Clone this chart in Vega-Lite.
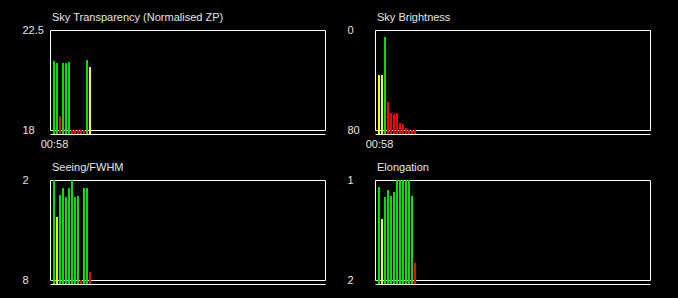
{
  "$schema": "https://vega.github.io/schema/vega-lite/v6.json",
  "background": "black",
  "padding": {"left": 21, "top": 11, "right": 28, "bottom": 22},
  "config": {
    "view": {"stroke": "white", "strokeWidth": 1},
    "font": "Liberation Sans",
    "scale": {"continuousPadding": 0},
    "axis": {"labelColor": "#e6e6e6", "labelFont": "Liberation Sans", "labelFontSize": 11, "grid": false, "ticks": false, "title": null, "labelFlush": false, "labelOverlap": false, "labelBound": false},
    "title": {"color": "#e6e6e6", "font": "Liberation Sans", "fontSize": 11, "fontWeight": "normal", "anchor": "start", "frame": "group", "baseline": "alphabetic", "offset": 1, "dx": 2}
  },
  "data": {"values": [
    {"time": "2024-01-01T00:58:00", "metric": "zp", "value": 21.1, "quality": "good"},
    {"time": "2024-01-01T01:01:00", "metric": "zp", "value": 21.02, "quality": "good"},
    {"time": "2024-01-01T01:04:00", "metric": "zp", "value": 18.63, "quality": "poor"},
    {"time": "2024-01-01T01:07:00", "metric": "zp", "value": 21.02, "quality": "good"},
    {"time": "2024-01-01T01:10:00", "metric": "zp", "value": 21.02, "quality": "good"},
    {"time": "2024-01-01T01:13:00", "metric": "zp", "value": 21.06, "quality": "good"},
    {"time": "2024-01-01T01:16:00", "metric": "zp", "value": 18.0, "quality": "poor"},
    {"time": "2024-01-01T01:19:00", "metric": "zp", "value": 18.0, "quality": "poor"},
    {"time": "2024-01-01T01:22:00", "metric": "zp", "value": 18.0, "quality": "poor"},
    {"time": "2024-01-01T01:25:00", "metric": "zp", "value": 18.0, "quality": "poor"},
    {"time": "2024-01-01T01:28:00", "metric": "zp", "value": 18.0, "quality": "poor"},
    {"time": "2024-01-01T01:31:00", "metric": "zp", "value": 21.15, "quality": "good"},
    {"time": "2024-01-01T01:34:00", "metric": "zp", "value": 20.84, "quality": "fair"},
    {"time": "2024-01-01T00:58:00", "metric": "sky", "value": 36, "quality": "fair"},
    {"time": "2024-01-01T01:01:00", "metric": "sky", "value": 36, "quality": "fair"},
    {"time": "2024-01-01T01:04:00", "metric": "sky", "value": 5.6, "quality": "good"},
    {"time": "2024-01-01T01:07:00", "metric": "sky", "value": 57.6, "quality": "poor"},
    {"time": "2024-01-01T01:10:00", "metric": "sky", "value": 66.4, "quality": "poor"},
    {"time": "2024-01-01T01:13:00", "metric": "sky", "value": 67.2, "quality": "poor"},
    {"time": "2024-01-01T01:16:00", "metric": "sky", "value": 66.4, "quality": "poor"},
    {"time": "2024-01-01T01:19:00", "metric": "sky", "value": 74.4, "quality": "poor"},
    {"time": "2024-01-01T01:22:00", "metric": "sky", "value": 75.2, "quality": "poor"},
    {"time": "2024-01-01T01:25:00", "metric": "sky", "value": 78.4, "quality": "poor"},
    {"time": "2024-01-01T01:28:00", "metric": "sky", "value": 80, "quality": "poor"},
    {"time": "2024-01-01T01:31:00", "metric": "sky", "value": 80, "quality": "poor"},
    {"time": "2024-01-01T01:34:00", "metric": "sky", "value": 80, "quality": "poor"},
    {"time": "2024-01-01T00:58:00", "metric": "seeing", "value": 2.0, "quality": "good"},
    {"time": "2024-01-01T01:01:00", "metric": "seeing", "value": 4.22, "quality": "fair"},
    {"time": "2024-01-01T01:04:00", "metric": "seeing", "value": 2.9, "quality": "good"},
    {"time": "2024-01-01T01:07:00", "metric": "seeing", "value": 2.48, "quality": "good"},
    {"time": "2024-01-01T01:10:00", "metric": "seeing", "value": 3.02, "quality": "good"},
    {"time": "2024-01-01T01:13:00", "metric": "seeing", "value": 2.48, "quality": "good"},
    {"time": "2024-01-01T01:16:00", "metric": "seeing", "value": 2.0, "quality": "good"},
    {"time": "2024-01-01T01:19:00", "metric": "seeing", "value": 3.02, "quality": "good"},
    {"time": "2024-01-01T01:22:00", "metric": "seeing", "value": 2.96, "quality": "good"},
    {"time": "2024-01-01T01:25:00", "metric": "seeing", "value": 8.0, "quality": "poor"},
    {"time": "2024-01-01T01:28:00", "metric": "seeing", "value": 2.48, "quality": "good"},
    {"time": "2024-01-01T01:31:00", "metric": "seeing", "value": 2.48, "quality": "good"},
    {"time": "2024-01-01T01:34:00", "metric": "seeing", "value": 7.52, "quality": "poor"},
    {"time": "2024-01-01T00:58:00", "metric": "elong", "value": 1.07, "quality": "good"},
    {"time": "2024-01-01T01:01:00", "metric": "elong", "value": 1.39, "quality": "fair"},
    {"time": "2024-01-01T01:04:00", "metric": "elong", "value": 1.17, "quality": "good"},
    {"time": "2024-01-01T01:07:00", "metric": "elong", "value": 1.10, "quality": "good"},
    {"time": "2024-01-01T01:10:00", "metric": "elong", "value": 1.16, "quality": "good"},
    {"time": "2024-01-01T01:13:00", "metric": "elong", "value": 1.12, "quality": "good"},
    {"time": "2024-01-01T01:16:00", "metric": "elong", "value": 1.0, "quality": "good"},
    {"time": "2024-01-01T01:19:00", "metric": "elong", "value": 1.0, "quality": "good"},
    {"time": "2024-01-01T01:22:00", "metric": "elong", "value": 1.0, "quality": "good"},
    {"time": "2024-01-01T01:25:00", "metric": "elong", "value": 1.0, "quality": "good"},
    {"time": "2024-01-01T01:28:00", "metric": "elong", "value": 1.0, "quality": "good"},
    {"time": "2024-01-01T01:31:00", "metric": "elong", "value": 1.16, "quality": "good"},
    {"time": "2024-01-01T01:34:00", "metric": "elong", "value": 1.83, "quality": "poor"}
  ]},
  "columns": 2,
  "spacing": {"row": 50, "column": 50},
  "bounds": "flush",
  "concat": [
    {
      "width": 275, "height": 100,
      "title": {"text": "Sky Transparency (Normalised ZP)"},
      "transform": [{"filter": "datum.metric === 'zp'"}],
      "mark": {"type": "bar", "width": 2},
      "encoding": {
        "x": {"field": "time", "type": "temporal",
          "scale": {"domain": [{"year": 2024, "month": 1, "date": 1, "hours": 0, "minutes": 54}, {"year": 2024, "month": 1, "date": 1, "hours": 5, "minutes": 29}], "nice": false, "padding": 0},
          "axis": {"values": [{"year": 2024, "month": 1, "date": 1, "hours": 0, "minutes": 58}], "format": "%H:%M", "domain": true, "domainColor": "white", "offset": 4, "labelPadding": 4}},
        "y": {"field": "value", "type": "quantitative", "scale": {"domain": [18, 22.5], "zero": false, "nice": false, "padding": 0},
          "axis": {"values": [18, 22.5], "labelExpr": "'' + datum.value", "domain": false, "labelAlign": "left", "labelBaseline": "middle", "labelPadding": 28}},
        "y2": {"datum": 17.82},
        "color": {"field": "quality", "type": "nominal", "scale": {"domain": ["good", "fair", "poor"], "range": ["#00e000", "#ffff00", "#ff0000"]}, "legend": null}
      }
    },
    {
      "width": 275, "height": 100,
      "title": {"text": "Sky Brightness"},
      "transform": [{"filter": "datum.metric === 'sky'"}],
      "mark": {"type": "bar", "width": 2},
      "encoding": {
        "x": {"field": "time", "type": "temporal",
          "scale": {"domain": [{"year": 2024, "month": 1, "date": 1, "hours": 0, "minutes": 54}, {"year": 2024, "month": 1, "date": 1, "hours": 5, "minutes": 29}], "nice": false, "padding": 0},
          "axis": {"values": [{"year": 2024, "month": 1, "date": 1, "hours": 0, "minutes": 58}], "format": "%H:%M", "domain": true, "domainColor": "white", "offset": 4, "labelPadding": 4}},
        "y": {"field": "value", "type": "quantitative", "scale": {"domain": [0, 80], "reverse": true, "zero": false, "nice": false, "padding": 0},
          "axis": {"values": [0, 80], "labelExpr": "'' + datum.value", "domain": false, "labelAlign": "left", "labelBaseline": "middle", "labelPadding": 28}},
        "y2": {"datum": 83.2},
        "color": {"field": "quality", "type": "nominal", "scale": {"domain": ["good", "fair", "poor"], "range": ["#00e000", "#ffff00", "#ff0000"]}, "legend": null}
      }
    },
    {
      "width": 275, "height": 100,
      "title": {"text": "Seeing/FWHM"},
      "transform": [{"filter": "datum.metric === 'seeing'"}],
      "mark": {"type": "bar", "width": 2},
      "encoding": {
        "x": {"field": "time", "type": "temporal",
          "scale": {"domain": [{"year": 2024, "month": 1, "date": 1, "hours": 0, "minutes": 54}, {"year": 2024, "month": 1, "date": 1, "hours": 5, "minutes": 29}], "nice": false, "padding": 0},
          "axis": {"values": [], "labels": false, "domain": true, "domainColor": "white", "offset": 4}},
        "y": {"field": "value", "type": "quantitative", "scale": {"domain": [2, 8], "reverse": true, "zero": false, "nice": false, "padding": 0},
          "axis": {"values": [2, 8], "labelExpr": "'' + datum.value", "domain": false, "labelAlign": "left", "labelBaseline": "middle", "labelPadding": 28}},
        "y2": {"datum": 8.24},
        "color": {"field": "quality", "type": "nominal", "scale": {"domain": ["good", "fair", "poor"], "range": ["#00e000", "#ffff00", "#ff0000"]}, "legend": null}
      }
    },
    {
      "width": 275, "height": 100,
      "title": {"text": "Elongation"},
      "transform": [{"filter": "datum.metric === 'elong'"}],
      "mark": {"type": "bar", "width": 2},
      "encoding": {
        "x": {"field": "time", "type": "temporal",
          "scale": {"domain": [{"year": 2024, "month": 1, "date": 1, "hours": 0, "minutes": 54}, {"year": 2024, "month": 1, "date": 1, "hours": 5, "minutes": 29}], "nice": false, "padding": 0},
          "axis": {"values": [], "labels": false, "domain": true, "domainColor": "white", "offset": 4}},
        "y": {"field": "value", "type": "quantitative", "scale": {"domain": [1, 2], "reverse": true, "zero": false, "nice": false, "padding": 0},
          "axis": {"values": [1, 2], "labelExpr": "'' + datum.value", "domain": false, "labelAlign": "left", "labelBaseline": "middle", "labelPadding": 28}},
        "y2": {"datum": 2.04},
        "color": {"field": "quality", "type": "nominal", "scale": {"domain": ["good", "fair", "poor"], "range": ["#00e000", "#ffff00", "#ff0000"]}, "legend": null}
      }
    }
  ]
}
